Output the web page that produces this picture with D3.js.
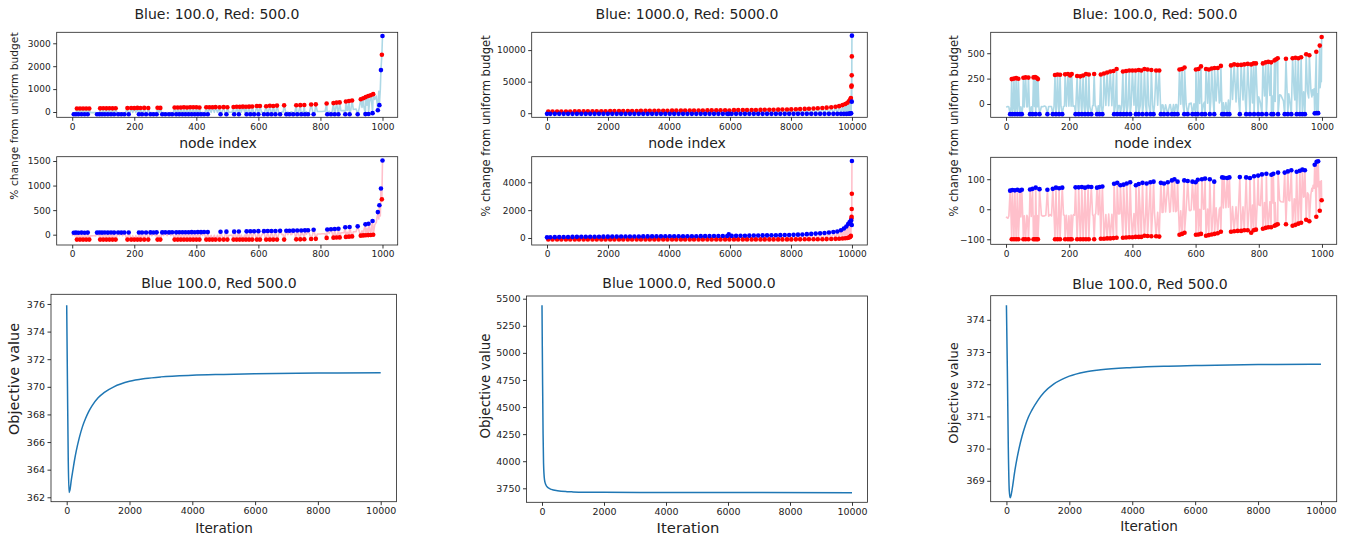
<!DOCTYPE html>
<html><head><meta charset="utf-8">
<script src="https://cdn.jsdelivr.net/npm/d3@7"></script>
<style>body{margin:0;background:#fff}svg{display:block}text{font-family:"DejaVu Sans",sans-serif}</style>
</head><body><svg id="c" width="1348" height="538"></svg>
<script>
// ---------- DATA ----------
const topTitles = ["Blue: 100.0, Red: 500.0", "Blue: 1000.0, Red: 5000.0", "Blue: 100.0, Red: 500.0"];
const bottomTitles = ["Blue 100.0, Red 500.0", "Blue 1000.0, Red 5000.0", "Blue 100.0, Red 500.0"];

// Node triples: [node index, red % change (upper panel), blue % change (lower panel)]
// Left column (1000 nodes)
const redNodesL = [[15,150,-100],[25,155,-100],[35,150,-100],[45,155,-100],[55,150,-100],
[90,160,-100],[100,165,-100],[110,160,-100],[120,165,-100],[130,160,-100],[140,165,-100],
[178,170,-100],[190,175,-100],[200,170,-100],[210,180,-100],[220,175,-100],[232,180,-100],[245,175,-100],
[275,185,-100],[284,180,-100],
[330,195,-100],[340,200,-100],[350,195,-100],[360,205,-100],[370,200,-100],[380,210,-100],[390,205,-100],[400,210,-100],[410,200,-100],
[432,205,-100],[442,210,-100],[452,205,-100],[462,215,-100],[475,210,-100],[488,215,-100],[500,210,-100],
[520,220,-100],[530,230,-100],[540,225,-100],[550,235,-100],[560,230,-100],[570,235,-100],[580,240,-100],
[595,260,-100],[605,265,-100],[625,250,-100],[637,270,-100],[648,265,-100],[660,280,-100],[683,290,-100],
[722,295,-95],[735,300,-95],[748,305,-92],[770,330,-88],[785,335,-85],[820,370,-65],
[842,390,-60],[852,410,-58],[862,420,-55],[882,460,-45],[892,480,-40],[902,500,-35],
[930,560,-20],[938,600,-15],[946,650,-10],[954,700,-8],[962,730,-5],[970,780,0],[998,2500,720]];
const blueNodesL = [[5,-100,40],[12,-100,42],[20,-100,40],[30,-100,42],[40,-100,40],[50,-100,42],
[80,-100,42],[88,-100,44],[96,-100,42],[105,-100,44],[115,-100,42],[125,-100,44],[135,-100,42],[148,-100,44],[158,-100,42],[168,-100,44],[182,-100,45],
[215,-100,45],[225,-100,46],[238,-100,45],[252,-100,47],[262,-100,46],[272,-100,48],[290,-100,47],[300,-100,48],[312,-100,47],[322,-100,49],[335,-100,48],[345,-100,50],[355,-100,49],[365,-100,51],[375,-100,50],[385,-100,52],[395,-100,51],[405,-100,53],[415,-100,52],[425,-100,54],[437,-100,53],
[478,-100,60],[497,-100,62],[522,-100,62],[537,-100,64],[562,-100,68],[574,-100,70],[586,-100,70],[600,-100,72],[618,-100,72],[630,-100,74],[642,-100,74],[655,-100,76],[670,-100,78],[690,-100,80],[700,-100,80],[712,-100,82],[725,-100,84],[738,-100,86],[750,-100,88],[760,-100,90],[778,-100,102],
[822,-100,105],[834,-100,110],[846,-100,115],[858,-100,120],[880,-100,150],[894,-100,158],[920,-100,170],
[945,-92,210],[955,-88,222],[968,-50,280],[985,80,460],[990,300,600],[995,1830,940],[1000,3320,1510]];
const neutralNodesL = [[0,-30,-25],[8,-28,-22],[18,-30,-25],[28,-27,-22],[38,-30,-25],[48,-28,-22],[58,-26,-24],[62,-28,-25],[68,-25,-22],[72,-25,-22],[76,-28,-24],[84,-26,-22],[92,-28,-24],[102,-25,-22],[112,-27,-23],[122,-25,-21],[132,-27,-23],[144,-25,-21],[152,-25,-20],[162,-26,-22],[172,-24,-20],[186,-25,-21],[195,-22,-20],[205,-20,-20],[214,-23,-19],[228,-21,-20],[242,-23,-18],[256,-21,-19],[258,-20,-18],[268,-22,-19],[280,-20,-18],[294,-22,-17],[306,-19,-18],[318,-18,-18],[326,-20,-17],[338,-18,-16],[348,-19,-17],[358,-17,-16],[368,-19,-17],[378,-17,-15],[388,-18,-16],[398,-16,-15],[408,-17,-14],[420,-15,-15],[428,-15,-15],[448,-16,-14],[458,-14,-13],[468,-15,-12],[482,-13,-12],[492,-12,-11],[505,-11,-10],[510,-10,-10],[515,-11,-9],[527,-10,-9],[545,-10,-8],[556,-9,-7],[566,-8,-7],[578,-7,-6],[590,-5,-5],[610,-5,-5],[612,-5,-5],[620,-4,-4],[632,-3,-3],[645,-2,-2],[652,-1,-1],[665,0,0],[676,0,0],[680,1,1],[695,3,2],[705,5,2],[708,6,3],[718,7,4],[730,9,5],[742,10,5],[745,11,6],[755,13,8],[765,15,10],[775,17,11],[782,18,12],[790,19,13],[795,20,15],[800,22,15],[805,25,18],[812,30,20],[815,32,21],[828,40,25],[838,45,28],[848,50,32],[856,54,35],[866,58,38],[870,60,40],[876,66,42],[886,75,48],[888,80,50],[898,95,54],[906,108,58],[910,120,60],[915,130,63],[925,160,70],[934,200,80],[940,230,95],[950,300,120],[958,400,150],[965,450,170],[975,550,200],[980,700,250],[988,900,320],[993,1000,380]];

// Middle column (10000 nodes)
const redNodesM = [[40,265,-100],[180,270,-100],[330,272,-100],[470,275,-100],[620,278,-100],[760,280,-100],[910,283,-100],[1050,285,-100],[1200,288,-100],[1340,290,-100],[1490,292,-100],[1630,295,-100],[1780,298,-100],[1920,300,-100],[2070,330,-100],[2210,335,-100],[2360,340,-100],[2500,345,-100],[2650,350,-100],[2790,355,-100],[2940,360,-100],[3080,365,-100],[3230,370,-100],[3370,375,-100],[3520,380,-100],[3660,385,-100],[3810,392,-100],[3950,398,-100],[4100,402,-100],[4240,408,-100],[4390,412,-100],[4530,418,-100],[4680,422,-100],[4820,428,-100],[4970,432,-100],[5110,438,-100],[5260,442,-100],[5400,448,-100],[5550,455,-100],[5690,462,-100],[5840,470,-100],[5980,420,-100],[6130,480,-100],[6270,488,-100],[6420,495,-100],[6560,502,-100],[6710,510,-100],[6850,518,-100],[7000,525,-100],[7140,535,-100],[7290,545,-100],[7430,555,-100],[7580,565,-100],[7720,578,-100],[7870,590,-100],[8010,605,-100],[8160,625,-98],[8300,650,-96],[8450,680,-95],[8590,710,-92],[8740,750,-90],[8880,790,-87],[9030,830,-85],[9170,880,-78],[9320,950,-70],[9460,1030,-60],[9580,1120,-50],[9690,1280,-35],[9780,1450,-15],[9850,1650,5],[9900,1900,30],[9940,2150,80],[9965,2400,150],[9982,4200,1400],[9988,4400,1520],[9992,6000,2080],[9996,9000,3180]];
const blueNodesM = [[0,-100,48],[110,-100,55],[255,-100,60],[400,-100,65],[545,-100,70],[690,-100,74],[835,-100,78],[980,-100,82],[1125,-100,85],[1270,-100,88],[1415,-100,90],[1560,-100,92],[1705,-100,94],[1850,-100,95],[1995,-100,98],[2140,-100,100],[2285,-100,102],[2430,-100,104],[2575,-100,106],[2720,-100,108],[2865,-100,110],[3010,-100,112],[3155,-100,113],[3300,-100,114],[3445,-100,115],[3590,-100,117],[3735,-100,118],[3880,-100,120],[4025,-100,121],[4170,-100,122],[4315,-100,124],[4460,-100,125],[4605,-100,127],[4750,-100,128],[4895,-100,130],[5040,-100,132],[5185,-100,134],[5330,-100,136],[5475,-100,138],[5620,-100,140],[5765,-100,142],[5910,-100,145],[5960,-100,260],[6055,-100,150],[6200,-100,155],[6345,-100,160],[6490,-100,165],[6635,-100,170],[6780,-100,175],[6925,-100,180],[7070,-100,185],[7215,-100,190],[7360,-100,195],[7505,-100,200],[7650,-100,205],[7795,-100,210],[7940,-100,215],[8085,-100,225],[8230,-100,240],[8375,-100,255],[8520,-100,275],[8665,-100,295],[8810,-100,315],[8955,-100,335],[9100,-100,360],[9245,-100,395],[9390,-100,430],[9520,-100,470],[9640,-100,560],[9735,-100,680],[9815,-100,830],[9875,-80,1000],[9920,-60,1120],[9955,-40,1200],[9975,-20,1250],[9994,1830,935],[9999,12290,5530]];

// Right column (1000 nodes)
const redNodesR = [[18,245,-100],[25,250,-100],[32,255,-100],[39,248,-100],[55,258,-100],[62,262,-100],[71,260,-100],
[87,262,-100],[92,265,-100],[97,258,-100],[101,245,-100],[155,285,-100],[163,290,-100],[171,288,-100],
[187,292,-100],[196,295,-100],[203,280,-100],[208,295,-100],[225,275,-100],[235,272,-100],[244,280,-100],[253,295,-100],[262,290,-100],[279,295,-100],
[300,290,-98],[310,300,-98],[320,310,-97],[330,320,-97],[340,325,-96],[350,345,-95],
[370,320,-95],[380,325,-94],[390,330,-93],[400,330,-93],[410,330,-92],[420,335,-92],[428,330,-92],
[438,345,-88],[448,340,-89],[460,335,-90],[475,330,-90],[485,330,-91],
[549,340,-85],[557,345,-82],[565,360,-78],[601,340,-85],[609,345,-84],[617,370,-82],
[633,345,-88],[642,340,-86],[651,350,-84],[660,355,-82],[670,355,-80],[680,375,-75],
[712,380,-75],[722,390,-73],[733,385,-72],[744,385,-72],[754,390,-70],[765,395,-70],
[776,390,-78],[784,400,-70],[791,400,-68],[813,400,-65],[822,410,-62],[830,415,-60],[839,410,-60],
[850,430,-55],[855,440,-52],[860,450,-50],[886,445,-50],[907,450,-55],[916,455,-52],[925,450,-48],[934,460,-45],
[950,490,-35],[960,480,-40],[982,515,-25],[993,575,-5],[999,660,30]];
const blueNodesR = [[13,-100,62],[20,-100,64],[28,-100,63],[36,-100,65],[44,-100,62],[50,-100,65],
[76,-100,66],[84,-100,68],[94,-100,72],[106,-100,67],[131,-100,65],[148,-100,68],[158,-100,72],[168,-100,70],[178,-100,72],
[220,-100,73],[230,-100,73],[240,-100,74],[250,-100,72],[260,-100,75],[270,-100,74],[288,-100,72],[296,-100,74],[305,-100,76],
[342,-100,85],[352,-100,88],[362,-100,80],[372,-100,82],[382,-100,86],[393,-100,90],
[411,-100,80],[420,-100,84],[432,-100,88],[445,-100,86],[457,-100,90],[467,-100,92],
[490,-100,88],[500,-100,86],[512,-100,90],[525,-100,96],[533,-100,100],[543,-100,92],
[564,-100,96],[575,-100,94],[590,-100,92],[600,-100,90],[607,-100,98],[620,-100,100],[630,-100,102],[645,-100,100],[659,-100,92],
[684,-100,106],[690,-100,105],[700,-100,104],[707,-100,106],[740,-100,107],
[760,-100,106],[772,-100,104],[785,-100,110],[798,-100,112],[810,-100,116],[824,-100,118],
[840,-100,115],[846,-100,118],[861,-100,122],[882,-100,122],[892,-100,126],[903,-100,130],
[920,-100,125],[930,-100,128],[938,-100,132],[946,-100,130],[977,-92,148],[983,-90,158],[988,-90,160]];
const neutralNodesR = [[0,-30,-25],[3,-28,-28],[6,-25,-30],[9,-30,-22],[16,-26,-26],[23,-29,-24],[30,-27,-27],[34,-30,-25],[42,-26,-23],[47,-28,-26],[53,-27,-24],[58,-29,-22],[66,-30,-20],[68,-26,-25],[74,-28,-22],[80,-27,-24],[90,-25,-23],[99,-28,-21],[104,-26,-25],[112,-25,-20],[116,-27,-23],[122,-20,-22],[126,-26,-20],[135,-24,-23],[140,-25,-18],[144,-26,-22],[152,-23,-20],[160,-25,-22],[166,-24,-19],[174,-22,-21],[182,-24,-19],[185,-20,-20],[191,-23,-20],[199,-21,-22],[206,-22,-19],[212,-23,-21],[214,-20,-18],[217,-21,-20],[228,-22,-19],[238,-20,-21],[247,-21,-18],[256,-19,-20],[265,-20,-18],[274,-18,-19],[276,-15,-20],[282,-19,-17],[284,-20,-15],[292,-18,-18],[302,-17,-16],[308,-18,-18],[316,-15,-18],[325,-17,-16],[335,-16,-17],[346,-15,-15],[356,-16,-16],[360,-15,-15],[366,-14,-15],[376,-15,-14],[386,-13,-15],[396,-14,-13],[405,-13,-14],[415,-12,-13],[425,-13,-12],[435,-10,-15],[442,-12,-12],[452,-11,-13],[464,-10,-11],[470,-10,-12],[480,-11,-10],[494,-9,-11],[497,-10,-10],[505,-8,-9],[518,-7,-10],[520,-5,-8],[530,-6,-7],[537,-5,-8],[540,-5,-5],[546,-4,-6],[553,-3,-5],[560,-2,-5],[570,0,-4],[580,5,-3],[582,0,-5],[586,10,-2],[595,3,-2],[604,15,0],[613,5,0],[625,0,0],[628,20,2],[638,8,1],[648,25,3],[656,10,2],[665,30,5],[675,10,0],[678,35,6],[688,12,4],[696,15,5],[704,40,7],[710,18,6],[717,45,9],[728,20,8],[736,55,10],[750,40,8],[757,60,12],[770,60,10],[780,10,14],[795,75,18],[800,70,15],[805,15,12],[818,80,22],[826,20,18],[835,85,25],[845,80,20],[852,25,22],[866,90,30],[870,85,25],[878,30,24],[895,100,30],[898,35,28],[912,110,35],[914,40,32],[922,115,40],[928,45,36],[942,120,40],[944,50,45],[954,125,55],[958,60,48],[965,130,50],[968,70,70],[970,140,60],[972,90,80],[975,150,70],[979,170,90],[986,100,75],[990,200,85],[994,160,92],[996,230,90],[998,220,95]];

// Objective value over iterations: [iteration, value]
const objL = [[0,375.9],[25,370.0],[50,364.6],[75,362.35],[100,362.5],[150,363.3],[200,364.0],[250,364.7],[300,365.3],[400,366.3],[500,367.1],[600,367.7],[700,368.2],[800,368.6],[1000,369.2],[1200,369.6],[1500,370.0],[2000,370.4],[2500,370.6],[3000,370.72],[4000,370.84],[5000,370.9],[6000,370.95],[8000,371.0],[10000,371.02]];
const objM = [[0,5440],[10,5050],[20,4700],[35,4250],[50,3980],[80,3830],[120,3785],[200,3755],[300,3740],[500,3727],[800,3719],[1000,3717],[2000,3713],[4000,3711],[10000,3710]];
const objR = [[0,374.45],[30,372.4],[60,370.0],[90,368.7],[120,368.47],[150,368.56],[200,368.85],[250,369.2],[300,369.5],[400,370.0],[500,370.4],[600,370.72],[700,370.98],[800,371.18],[1000,371.5],[1200,371.75],[1500,372.0],[2000,372.25],[2500,372.38],[3000,372.45],[4000,372.52],[5000,372.56],[6000,372.58],[8000,372.61],[10000,372.62]];

// Tick values
const xTicks1000 = [0,200,400,600,800,1000];
const xTicks10000 = [0,2000,4000,6000,8000,10000];
const yTicksTL = [0,1000,2000,3000], yTicksBL = [0,500,1000,1500];
const yTicksTM = [0,5000,10000], yTicksBM = [0,2000,4000];
const yTicksTR = [0,250,500], yTicksBR = [-100,0,100];
const yTicksObjL = [362,364,366,368,370,372,374,376];
const yTicksObjM = [3750,4000,4250,4500,4750,5000,5250,5500];
const yTicksObjR = [369,370,371,372,373,374];

// ---------- DRAWING ----------
const svg = d3.select('#c');
let clipN = 0;
function panel(box, xDom, yDom, xT, yT, fs) {
  const x = d3.scaleLinear().domain(xDom).range([box.l, box.r]);
  const y = d3.scaleLinear().domain(yDom).range([box.b, box.t]);
  const id = 'cp' + (++clipN);
  svg.append('clipPath').attr('id', id).append('rect')
    .attr('x', box.l).attr('y', box.t).attr('width', box.r - box.l).attr('height', box.b - box.t);
  const plot = svg.append('g').attr('clip-path', `url(#${id})`);
  const ax = svg.append('g');
  const fmt = d3.format('d');
  const xa = ax.append('g').attr('transform', `translate(0,${box.b})`)
    .call(d3.axisBottom(x).tickValues(xT).tickSize(3.5).tickPadding(2.5).tickFormat(fmt));
  const ya = ax.append('g').attr('transform', `translate(${box.l},0)`)
    .call(d3.axisLeft(y).tickValues(yT).tickSize(3.5).tickPadding(2.5).tickFormat(fmt));
  [xa, ya].forEach(a => {
    a.select('.domain').remove();
    a.selectAll('line').attr('stroke', '#000').attr('stroke-width', 0.8);
    a.selectAll('text').attr('font-size', fs).attr('fill', '#222').attr('font-family', 'DejaVu Sans');
  });
  const frame = () => svg.append('rect').attr('x', box.l).attr('y', box.t)
    .attr('width', box.r - box.l).attr('height', box.b - box.t)
    .attr('fill', 'none').attr('stroke', '#222').attr('stroke-width', 0.8);
  return {x, y, plot, frame};
}
function nodePanel(p, reds, blues, neutrals, col, lineColor) {
  const all = reds.concat(blues, neutrals).slice().sort((a, b) => a[0] - b[0]);
  const line = d3.line().x(d => p.x(d[0])).y(d => p.y(d[col]));
  p.plot.append('path').datum(all).attr('d', line).attr('fill', 'none')
    .attr('stroke', lineColor).attr('stroke-width', 1.6).attr('stroke-linejoin', 'round');
  p.plot.selectAll('.r').data(reds).enter().append('circle')
    .attr('cx', d => p.x(d[0])).attr('cy', d => p.y(d[col])).attr('r', 2.3).attr('fill', 'red');
  p.plot.selectAll('.b').data(blues).enter().append('circle')
    .attr('cx', d => p.x(d[0])).attr('cy', d => p.y(d[col])).attr('r', 2.3).attr('fill', 'blue');
  p.frame();
}
function objPanel(p, data) {
  const line = d3.line().x(d => p.x(d[0])).y(d => p.y(d[1])).curve(d3.curveMonotoneX);
  p.plot.append('path').datum(data).attr('d', line).attr('fill', 'none')
    .attr('stroke', '#1f77b4').attr('stroke-width', 1.5);
  p.frame();
}
function text(x, y, s, fs, rot) {
  const t = svg.append('text').attr('text-anchor', 'middle').attr('font-size', fs).attr('fill', '#222').text(s);
  if (rot) t.attr('transform', `translate(${x},${y}) rotate(-90)`).attr('dy', '0.35em');
  else t.attr('x', x).attr('y', y);
  return t;
}

const tickFs = 9;
const upY = {t: 32.3, b: 117.3}, loY = {t: 156.7, b: 245};
const colsTop = [{l: 56.7, r: 397.7, dom: [-50, 1049], xt: xTicks1000},
                 {l: 531.7, r: 867.3, dom: [-502, 10503], xt: xTicks10000},
                 {l: 990.7, r: 1336.7, dom: [-48.5, 1046.6], xt: xTicks1000}];
const upDom = [[-231, 3480], [-650, 12820], [-131, 706]];
const loDom = [[-210, 1588], [-503, 5838], [-116.7, 173]];
const upTicks = [yTicksTL, yTicksTM, yTicksTR], loTicks = [yTicksBL, yTicksBM, yTicksBR];
const nodeSets = [[redNodesL, blueNodesL, neutralNodesL], [redNodesM, blueNodesM, []], [redNodesR, blueNodesR, neutralNodesR]];

colsTop.forEach((c, i) => {
  const pu = panel({l: c.l, r: c.r, t: upY.t, b: upY.b}, c.dom, upDom[i], c.xt, upTicks[i], tickFs);
  nodePanel(pu, nodeSets[i][0], nodeSets[i][1], nodeSets[i][2], 1, '#add8e6');
  const pl = panel({l: c.l, r: c.r, t: i === 2 ? 157.3 : loY.t, b: i === 2 ? 244.3 : loY.b}, c.dom, loDom[i], c.xt, loTicks[i], tickFs);
  nodePanel(pl, nodeSets[i][0], nodeSets[i][1], nodeSets[i][2], 2, '#ffc0cb');
});

const topCx = [217, 687, 1155];
topTitles.forEach((s, i) => text(topCx[i], 19, s, 14));
[218, 687, 1153].forEach(cx => text(cx, 148, 'node index', 14));
text(14, 116, '% change from uniform budget', 10.7, true);
text(486, 126, '% change from uniform budget', 11.6, true);
text(954, 126, '% change from uniform budget', 11.6, true);

const pb1 = panel({l: 51, r: 396.4, t: 294.3, b: 501.7}, [-500, 10500], [361.68, 376.70], xTicks10000, yTicksObjL, 9.5);
objPanel(pb1, objL);
const pb2 = panel({l: 526.5, r: 867.5, t: 296, b: 502.3}, [-500, 10500], [3620.8, 5524.9], xTicks10000, yTicksObjM, 9.5);
objPanel(pb2, objM);
const pb3 = panel({l: 990.7, r: 1336.7, t: 295.7, b: 501.7}, [-500, 10500], [368.35, 374.75], xTicks10000, yTicksObjR, 9.5);
objPanel(pb3, objR);

text(219, 288, bottomTitles[0], 14);
text(689, 288, bottomTitles[1], 14);
text(1150, 289, bottomTitles[2], 14);
text(224, 533, 'Iteration', 13.6);
text(688, 533, 'Iteration', 14.8);
text(1149, 531, 'Iteration', 13.6);
text(14, 379, 'Objective value', 14.4, true);
text(485.5, 386, 'Objective value', 13.5, true);
text(953, 393, 'Objective value', 13, true);
</script></body></html>
